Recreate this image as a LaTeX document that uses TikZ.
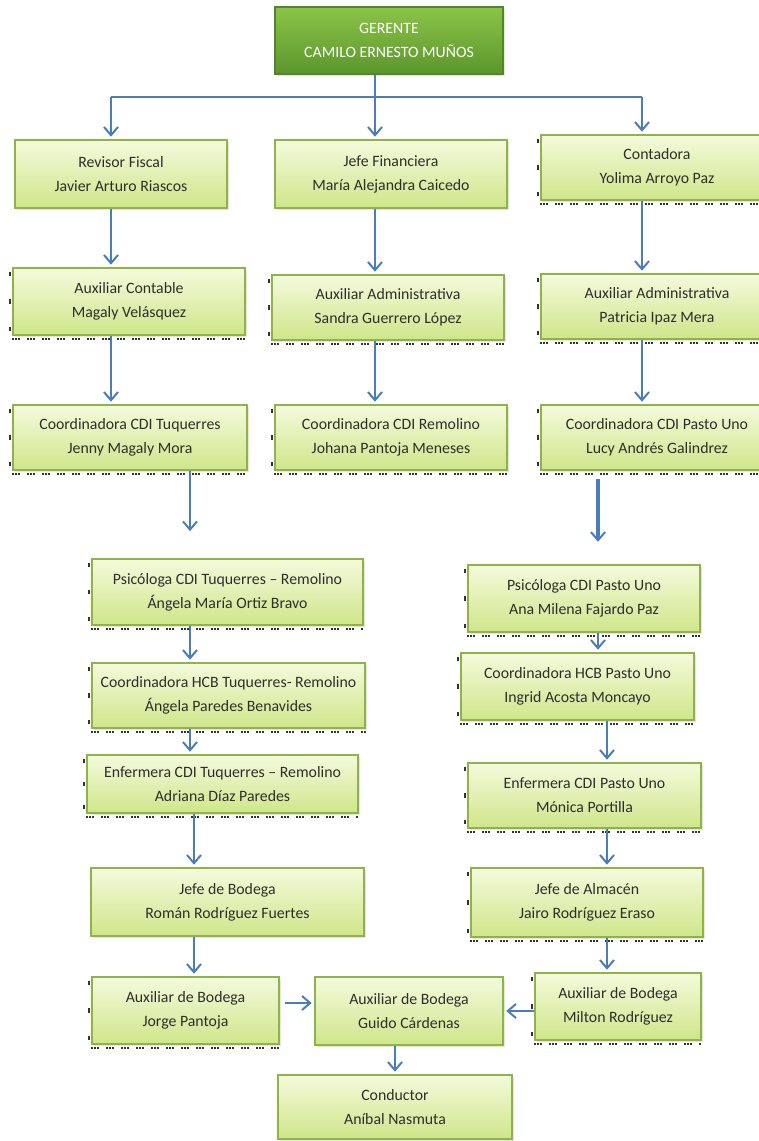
\documentclass[tikz,border=0pt]{standalone}
\usepackage{fontspec}
\setmainfont{Carlito}
\usepackage{tikz}
\usetikzlibrary{arrows.meta,shadows}

\definecolor{boxtop}{HTML}{F4FADC}
\definecolor{boxbot}{HTML}{CFE68A}
\definecolor{boxline}{HTML}{8FB347}
\definecolor{gertop}{HTML}{8CC447}
\definecolor{gerbot}{HTML}{5B962C}
\definecolor{arrowblue}{HTML}{4A7EBB}
\definecolor{txt}{HTML}{2E2E2E}

\begin{document}
\begin{tikzpicture}[x=0.03cm, y=-0.03cm,
	box/.style={draw=boxline, line width=1.6pt, top color=boxtop, bottom color=boxbot,
		inner sep=0pt, align=center, text=txt,
		font=\fontsize{13.5}{20.5}\selectfont,
		drop shadow={opacity=0.2, shadow xshift=1.5pt, shadow yshift=-2pt}},
	boss/.style={box, draw=gerbot!90!black, top color=gertop, bottom color=gerbot, text=white},
	line/.style={draw=arrowblue, line width=2pt},
	arr/.style={line, -{Straight Barb[length=7pt, width=12pt, line width=1.7pt]}, shorten >=2pt},
	tick/.style={black!80, line width=1.8pt}]

	\path[use as bounding box, fill=white] (0,0) rectangle (759,1141);

	\newcommand\drawBox[6]{\node[box, minimum width={(#3-#1)*0.03cm}, minimum height={(#4-#2)*0.03cm}] (#6) at ({(#1+#3)/2},{(#2+#4)/2}) {#5};}
	\newcommand\drawHandles[1]{
		\draw[tick, dash pattern=on 1.6pt off 1pt on 1.6pt off 1pt on 1.6pt off 6pt] ([yshift=-2.5pt]#1.south west) -- ([yshift=-2.5pt]#1.south east);
		\draw[tick] ([xshift=-1.5pt,yshift=-4pt]#1.north west) -- ++(0,-4pt);
		\draw[tick] ([xshift=-1.5pt,yshift=2pt]#1.west) -- ++(0,-4pt);
		\draw[tick] ([xshift=-1.5pt,yshift=8pt]#1.south west) -- ++(0,-4pt);
	}

	% gerente
	\node[boss, minimum width={228*0.03cm}, minimum height={67*0.03cm}] (ger) at (389,40.5) {GERENTE\\CAMILO ERNESTO MUÑOS};

	% primera fila
	\drawBox{15}{140}{227}{208}{Revisor Fiscal\\Javier Arturo Riascos}{rev}
	\drawBox{275}{140}{507}{208}{Jefe Financiera\\María Alejandra Caicedo}{jef}
	\drawBox{541}{135}{773}{200}{Contadora\\Yolima Arroyo Paz}{con}

	\drawBox{13}{268}{245}{335}{Auxiliar Contable\\Magaly Velásquez}{auxc}
	\drawBox{272}{275}{504}{340}{Auxiliar Administrativa\\Sandra Guerrero López}{auxs}
	\drawBox{541}{274}{773}{339}{Auxiliar Administrativa\\Patricia Ipaz Mera}{auxp}

	\drawBox{13}{405}{247}{470}{Coordinadora CDI Tuquerres\\Jenny Magaly Mora}{tuq}
	\drawBox{275}{405}{507}{470}{Coordinadora CDI Remolino\\Johana Pantoja Meneses}{rem}
	\drawBox{541}{405}{773}{470}{Coordinadora CDI Pasto Uno\\Lucy Andrés Galindrez}{pas}

	% Tuquerres - Remolino
	\drawBox{92}{559}{363}{625}{Psicóloga CDI Tuquerres – Remolino\\Ángela María Ortiz Bravo}{psiT}
	\drawBox{92}{663}{365}{728}{Coordinadora HCB Tuquerres- Remolino\\Ángela Paredes Benavides}{hcbT}
	\drawBox{87}{755}{358}{813}{Enfermera CDI Tuquerres – Remolino\\Adriana Díaz Paredes}{enfT}
	\drawBox{91}{868}{364}{936}{Jefe de Bodega\\Román Rodríguez Fuertes}{bodT}
	\drawBox{92}{977}{279}{1044}{Auxiliar de Bodega\\Jorge Pantoja}{jorge}

	% Pasto Uno
	\drawBox{468}{565}{700}{632}{Psicóloga CDI Pasto Uno\\Ana Milena Fajardo Paz}{psiP}
	\drawBox{461}{653}{694}{720}{Coordinadora HCB Pasto Uno\\Ingrid Acosta Moncayo}{hcbP}
	\drawBox{468}{763}{701}{828}{Enfermera CDI Pasto Uno\\Mónica Portilla}{enfP}
	\drawBox{471}{868}{703}{937}{Jefe de Almacén\\Jairo Rodríguez Eraso}{alm}
	\drawBox{535}{973}{701}{1040}{Auxiliar de Bodega\\Milton Rodríguez}{milton}

	\drawBox{315}{977}{503}{1045}{Auxiliar de Bodega\\Guido Cárdenas}{guido}
	\drawBox{278}{1075}{512}{1139}{Conductor\\Aníbal Nasmuta}{cond}

	\foreach \n in {con,auxc,auxs,auxp,tuq,rem,pas,psiT,hcbT,enfT,psiP,hcbP,enfP,alm,jorge,milton}
		\drawHandles{\n};

	\coordinate (kA) at (111,97);
	\coordinate (kB) at (375,97);
	\coordinate (kC) at (642,97);
	\coordinate (kD) at (190,0);
	\coordinate (kE) at (194,0);
	\coordinate (kF) at (598,0);
	\coordinate (kG) at (607,0);
	\coordinate (kH) at (395,0);
	\coordinate (kI) at (0,1003);
	\coordinate (kJ) at (0,1011);

	\draw[line] (ger.south -| kB) -- (kB);
	\draw[line] (kA) -- (kC);
	\draw[arr] (kA) -- (rev.north -| kA);
	\draw[arr] (kB) -- (jef.north -| kB);
	\draw[arr] (kC) -- (con.north -| kC);

	\draw[arr] (rev.south -| kA) -- (auxc.north -| kA);
	\draw[arr] (jef.south -| kB) -- (auxs.north -| kB);
	\draw[arr] (con.south -| kC) -- (auxp.north -| kC);
	\draw[arr] (auxc.south -| kA) -- (tuq.north -| kA);
	\draw[arr] (auxs.south -| kB) -- (rem.north -| kB);
	\draw[arr] (auxp.south -| kC) -- (pas.north -| kC);

	\draw[arr, shorten >=23pt] (tuq.south -| kD) -- (psiT.north -| kD);
	\draw[arr] (psiT.south -| kD) -- (hcbT.north -| kD);
	\draw[arr] (hcbT.south -| kD) -- (enfT.north -| kD);
	\draw[arr] (enfT.south -| kE) -- (bodT.north -| kE);
	\draw[arr] (bodT.south -| kE) -- (jorge.north -| kE);

	\draw[arr, line width=2.6pt, shorten <=7pt, shorten >=19pt] (pas.south -| kF) -- (psiP.north -| kF);
	\draw[arr] (psiP.south -| kF) -- (hcbP.north -| kF);
	\draw[arr] (hcbP.south -| kG) -- (enfP.north -| kG);
	\draw[arr] (enfP.south -| kG) -- (alm.north -| kG);
	\draw[arr] (alm.south -| kG) -- (milton.north -| kG);

	\draw[arr, shorten <=4pt] (jorge.east |- kI) -- (guido.west |- kI);
	\draw[arr] (milton.west |- kJ) -- (guido.east |- kJ);
	\draw[arr] (guido.south -| kH) -- (cond.north -| kH);
\end{tikzpicture}
\end{document}
